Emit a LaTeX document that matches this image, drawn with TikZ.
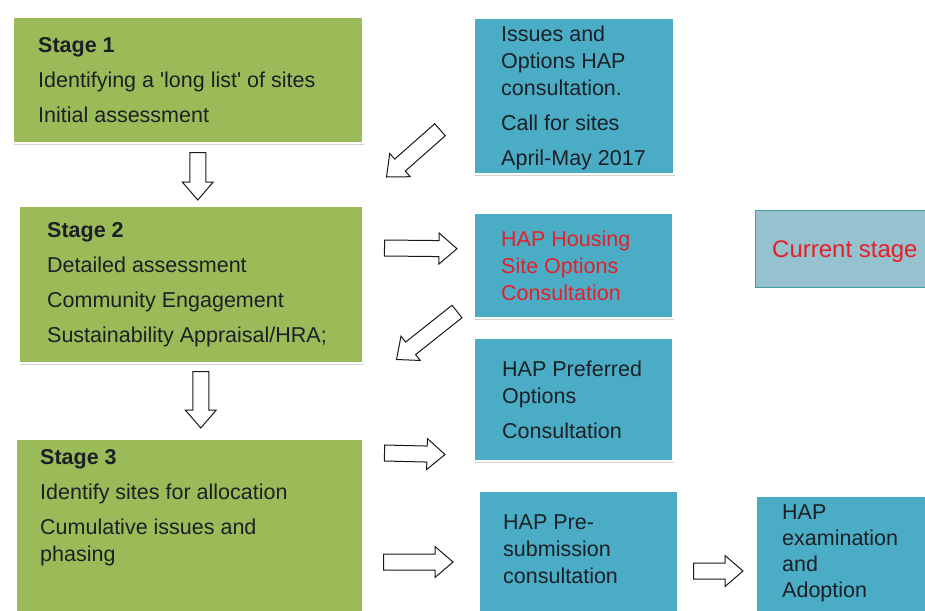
\documentclass[tikz,border=0pt]{standalone}
\usepackage{fontspec}
\setmainfont{Liberation Sans}
\usetikzlibrary{calc,shadows}
\definecolor{stagegreen}{RGB}{155,187,89}
\definecolor{hapblue}{RGB}{75,172,198}
\definecolor{nowfill}{RGB}{150,193,206}
\definecolor{nowline}{RGB}{62,160,150}
\definecolor{nowred}{RGB}{232,30,40}
\definecolor{textdark}{RGB}{28,32,38}
\tikzset{
  stagebox/.style={shape=rectangle,fill=stagegreen,draw=white,line width=1.5pt,anchor=north west,inner sep=0pt,
    drop shadow={shadow xshift=1.5pt,shadow yshift=-2.5pt,opacity=.35}},
  hapbox/.style={stagebox,fill=hapblue},
  boxtext/.style={anchor=north west,inner sep=0pt,align=left,text=textdark,font=\fontsize{21.5}{27}\selectfont},
  blockarrow/.style={draw=black!90,fill=white,line width=1pt,line join=miter,
    to path={($(\tikztotarget)!18pt!(\tikztostart)$) coordinate (neck)
      ($(\tikztostart)!8pt!90:(\tikztotarget)$) -- ($(neck)!8pt!90:(\tikztotarget)$)
      -- ($(neck)!15.5pt!90:(\tikztotarget)$) -- (\tikztotarget)
      -- ($(neck)!15.5pt!-90:(\tikztotarget)$) -- ($(neck)!8pt!-90:(\tikztotarget)$)
      -- ($(\tikztostart)!8pt!-90:(\tikztotarget)$) -- cycle}}
}
\begin{document}
\begin{tikzpicture}[x=1pt,y=-1pt]
\useasboundingbox (0,0) rectangle (925,610);
\fill[white] (0,0) rectangle (925,610);
\clip (0,0) rectangle (925,610);
\node(stageone) [stagebox,minimum width=350pt,minimum height=125pt] at (12,17) {};
\node(stagetwo) [stagebox,minimum width=344pt,minimum height=157pt] at (18,205) {};
\node(stagethree) [stagebox,minimum width=347pt,minimum height=190pt] at (15,438) {};
\node(issues) [hapbox,minimum width=200pt,minimum height=155pt] at (473,18) {};
\node(housing) [hapbox,minimum width=199pt,minimum height=105pt] at (473,212) {};
\node(preferred) [hapbox,minimum width=199pt,minimum height=123pt] at (473,337) {};
\node(presub) [hapbox,minimum width=199pt,minimum height=130pt] at (478,490) {};
\node(exam) [hapbox,minimum width=190pt,minimum height=125pt] at (755,495) {};
\node(now) [shape=rectangle,anchor=north west,fill=nowfill,draw=nowline,line width=1.2pt,
  minimum width=190pt,minimum height=77pt] at (755,210) {};

\node(stageonetext) [boxtext] at (38,37.5) {\textbf{Stage 1}\\[8pt]Identifying a \textquotesingle long list\textquotesingle{} of sites\\[8pt]Initial assessment};
\node(stagetwotext) [boxtext] at (47,222.5) {\textbf{Stage 2}\\[8pt]Detailed assessment\\[8pt]Community Engagement\\[8pt]Sustainability Appraisal/HRA;};
\node(stagethreetext) [boxtext] at (40,449.5) {\textbf{Stage 3}\\[8pt]Identify sites for allocation\\[8pt]Cumulative issues and\\phasing};
\node(issuestext) [boxtext] at (501,25.5) {Issues and\\Options HAP\\consultation.\\[8pt]Call for sites\\[8pt]April-May 2017};
\node(housingtext) [boxtext,text=nowred] at (501,230.5) {HAP Housing\\Site Options\\Consultation};
\node(preferredtext) [boxtext] at (502,360.5) {HAP Preferred\\Options\\[8pt]Consultation};
\node(presubtext) [boxtext] at (503,514.5) {HAP Pre-\\submission\\consultation};
\node(examtext) [boxtext,font=\fontsize{21.5}{26}\selectfont] at (782,504.5) {HAP\\examination\\and\\Adoption};
\node(nowtext) [boxtext,text=nowred,font=\fontsize{24}{28}\selectfont] at (772,241) {Current stage};

\draw [blockarrow] ($(stageone.south)+(10,9)$) to ($(stagetwo.north)+(7,-5)$);
\draw [blockarrow] ($(issues.west)+(-33,33.5)$) to ($(stagetwo.north east)+(23,-28)$);
\draw [blockarrow] ($(stagetwo.north east)+(21,43)$) to ($(housing.west)+(-16,-16.5)$);
\draw [blockarrow] ($(housing.south west)+(-16,-7)$) to ($(stagetwo.south east)+(33,-4)$);
\draw [blockarrow] ($(stagetwo.south)+(10,8)$) to ($(stagethree.north)+(11.5,-10)$);
\draw [blockarrow] ($(stagethree.north east)+(21,15)$) to ($(preferred.south west)+(-28,-7)$);
\draw [blockarrow] ($(stagethree.north east)+(20,124)$) to ($(presub.north west)+(-25,72)$);
\draw [blockarrow] ($(presub.north east)+(15,81)$) to ($(exam.north west)+(-12,76)$);
\end{tikzpicture}
\end{document}
